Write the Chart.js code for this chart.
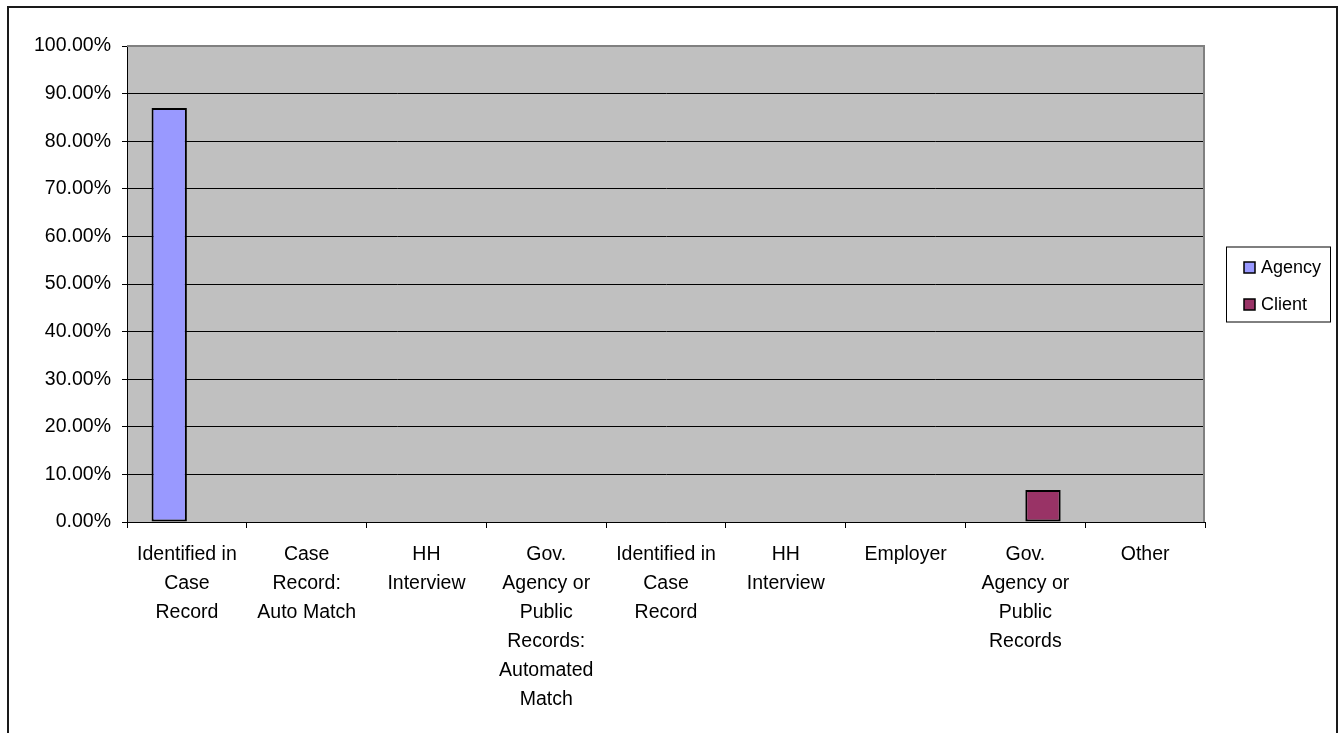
<!DOCTYPE html>
<html>
<head>
<meta charset="utf-8">
<script src="https://cdn.jsdelivr.net/npm/chart.js@4/dist/chart.umd.min.js"></script>
<style>
  html, body { margin: 0; padding: 0; background: #fff; }
  #wrap { width: 1340px; height: 733px; }
</style>
</head>
<body>
<div id="wrap"><canvas id="chart" width="1340" height="733"></canvas></div>
<script>
// categories as wrapped in the original picture
const categories = [
    ['Identified in', 'Case', 'Record'],
    ['Case', 'Record:', 'Auto Match'],
    ['HH', 'Interview'],
    ['Gov.', 'Agency or', 'Public', 'Records:', 'Automated', 'Match'],
    ['Identified in', 'Case', 'Record'],
    ['HH', 'Interview'],
    ['Employer'],
    ['Gov.', 'Agency or', 'Public', 'Records'],
    ['Other']
];
const agencyValues = [86.96, 0, 0, 0, 0, 0, 0, 0, 0];
const clientValues = [0, 0, 0, 0, 0, 0, 0, 6.7, 0];
const seriesNames = ['Agency', 'Client'];
const seriesColors = ['#9999FF', '#993366'];

const FONT = '"Liberation Sans", Arial, sans-serif';

// grey plot background, grey plot border, outer frame and boxed legend
const excelLook = {
    id: 'excelLook',
    beforeDraw(chart) {
        const { ctx, chartArea: a } = chart;
        ctx.save();
        ctx.fillStyle = '#C0C0C0';
        ctx.fillRect(a.left, a.top, a.right - a.left, a.bottom - a.top);
        ctx.restore();
    },
    afterDraw(chart) {
        const { ctx, chartArea: a } = chart;
        ctx.save();
        // plot border top / right
        ctx.strokeStyle = '#808080';
        ctx.lineWidth = 2;
        ctx.beginPath();
        ctx.moveTo(a.left, a.top);
        ctx.lineTo(a.right - 1, a.top);
        ctx.lineTo(a.right - 1, a.bottom);
        ctx.stroke();

        // outer frame (bottom edge falls outside the picture)
        ctx.strokeStyle = '#1a1a1a';
        ctx.lineWidth = 2;
        ctx.strokeRect(8, 7, 1329, 760);

        // legend
        const bx = a.right + 21, bw = 104, bh = 75;
        const by = (a.top + a.bottom) / 2 - bh / 2;
        ctx.strokeStyle = '#000';
        ctx.lineWidth = 1;
        ctx.strokeRect(bx + 0.5, by + 0.5, bw, bh);
        ctx.font = '18px ' + FONT;
        ctx.textBaseline = 'middle';
        chart.data.datasets.forEach((ds, i) => {
            const cy = by + 21 + i * 37;
            ctx.fillStyle = ds.backgroundColor;
            ctx.fillRect(bx + 18, cy - 5.5, 11, 11);
            ctx.strokeStyle = '#000';
            ctx.lineWidth = 1.5;
            ctx.strokeRect(bx + 18, cy - 5.5, 11, 11);
            ctx.fillStyle = '#000';
            ctx.fillText(ds.label, bx + 35, cy + 1);
        });
        ctx.restore();
    }
};

const ctx = document.getElementById('chart').getContext('2d');
new Chart(ctx, {
    type: 'bar',
    data: {
        labels: categories,
        datasets: [
            {
                label: seriesNames[0],
                data: agencyValues,
                backgroundColor: seriesColors[0],
                borderColor: '#000',
                borderWidth: 2,
                borderSkipped: false
            },
            {
                label: seriesNames[1],
                data: clientValues,
                backgroundColor: seriesColors[1],
                borderColor: '#000',
                borderWidth: 2,
                borderSkipped: false
            }
        ]
    },
    options: {
        responsive: false,
        animation: false,
        devicePixelRatio: 1,
        categoryPercentage: 0.59,
        barPercentage: 1,
        layout: { padding: { top: 46, right: 135, left: 0, bottom: 0 } },
        plugins: {
            legend: { display: false },
            tooltip: { enabled: false }
        },
        scales: {
            x: {
                offset: true,
                grid: {
                    offset: true,
                    drawOnChartArea: false,
                    drawTicks: true,
                    tickLength: 6,
                    color: '#000'
                },
                border: { color: '#000', width: 1 },
                ticks: {
                    autoSkip: false,
                    maxRotation: 0,
                    minRotation: 0,
                    padding: 12,
                    color: '#000',
                    font: { family: FONT, size: 19.5, lineHeight: 1.49 }
                },
                afterFit: (s) => { s.height = 211; }
            },
            y: {
                min: 0,
                max: 100,
                grid: { color: '#000', tickLength: 5, drawTicks: true },
                border: { color: '#000', width: 1 },
                ticks: {
                    stepSize: 10,
                    padding: 11,
                    color: '#000',
                    font: { family: FONT, size: 19.5 },
                    callback: (v) => v.toFixed(2) + '%'
                },
                afterFit: (s) => { s.width = 127; }
            }
        }
    },
    plugins: [excelLook]
});
</script>
</body>
</html>
